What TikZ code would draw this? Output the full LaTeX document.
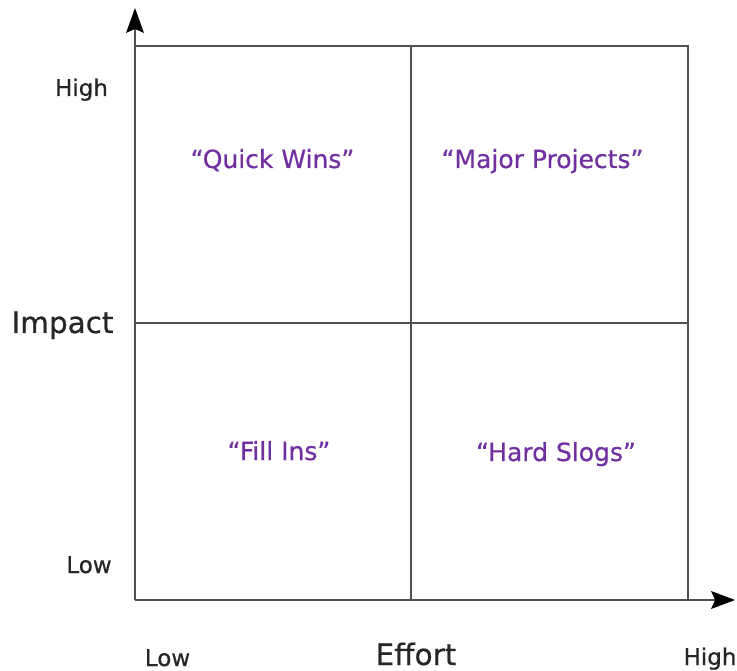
\documentclass[tikz,border=0pt]{standalone}
\usepackage{fontspec}
\setmainfont{DejaVu Sans}
\newfontfamily\medfont{DejaVu Sans}[FakeBold=0.6]
\definecolor{lin}{HTML}{505050}
\definecolor{quad}{HTML}{7030A0}
\tikzset{
  gridline/.style={draw=lin, line width=2pt},
  axisline/.style={draw=lin, line width=2pt},
  arrowhead/.style={fill=black, draw=none},
  lbl/.style={anchor=base, inner sep=0pt},
  qlabel/.style={lbl, text=quad, font=\medfont\fontsize{25}{30}\selectfont},
  ticklabel/.style={lbl, text=black!85, font=\medfont\fontsize{23}{28}\selectfont},
  axlabel/.style={lbl, text=black!85, font=\medfont\fontsize{29.5}{34}\selectfont}
}
\begin{document}
\begin{tikzpicture}[x=1pt,y=-1pt]
\useasboundingbox (0,0) rectangle (737,671);
\coordinate (o) at (135,600);
\coordinate (tl) at (135,46);
\coordinate (br) at (688,600);
\coordinate (tr) at (688,46);
\coordinate (mt) at (411,46);
\coordinate (mb) at (411,600);
\coordinate (ml) at (135,323);
\coordinate (mr) at (688,323);
\coordinate (ytip) at (135,8);
\coordinate (yback) at (135,29);
\coordinate (xtip) at (735,600);
\coordinate (xback) at (715,600);
\draw[gridline] (tl) -- (tr) -- (br);
\draw[gridline] (mt) -- (mb);
\draw[gridline] (ml) -- (mr);
\draw[axisline] (o) -- (yback);
\draw[axisline] (o) -- (xback);
\fill[arrowhead] (ytip) -- (144,33) -- (yback) -- (126,33) -- cycle;
\fill[arrowhead] (xtip) -- (711,609) -- (xback) -- (711,591) -- cycle;
\node[qlabel] (qw) at (272.5,168) {“Quick Wins”};
\node[qlabel] (mp) at (542.5,168) {“Major Projects”};
\node[qlabel] (fi) at (279,460) {“Fill Ins”};
\node[qlabel] (hs) at (556,461) {“Hard Slogs”};
\node[ticklabel] (yh) at (81.5,96) {High};
\node[ticklabel] (yl) at (89,573) {Low};
\node[axlabel] (yi) at (62.5,333) {Impact};
\node[ticklabel] (xl) at (167.5,666) {Low};
\node[axlabel] (xe) at (416,665) {Effort};
\node[ticklabel] (xh) at (710,665) {High};
\end{tikzpicture}
\end{document}
